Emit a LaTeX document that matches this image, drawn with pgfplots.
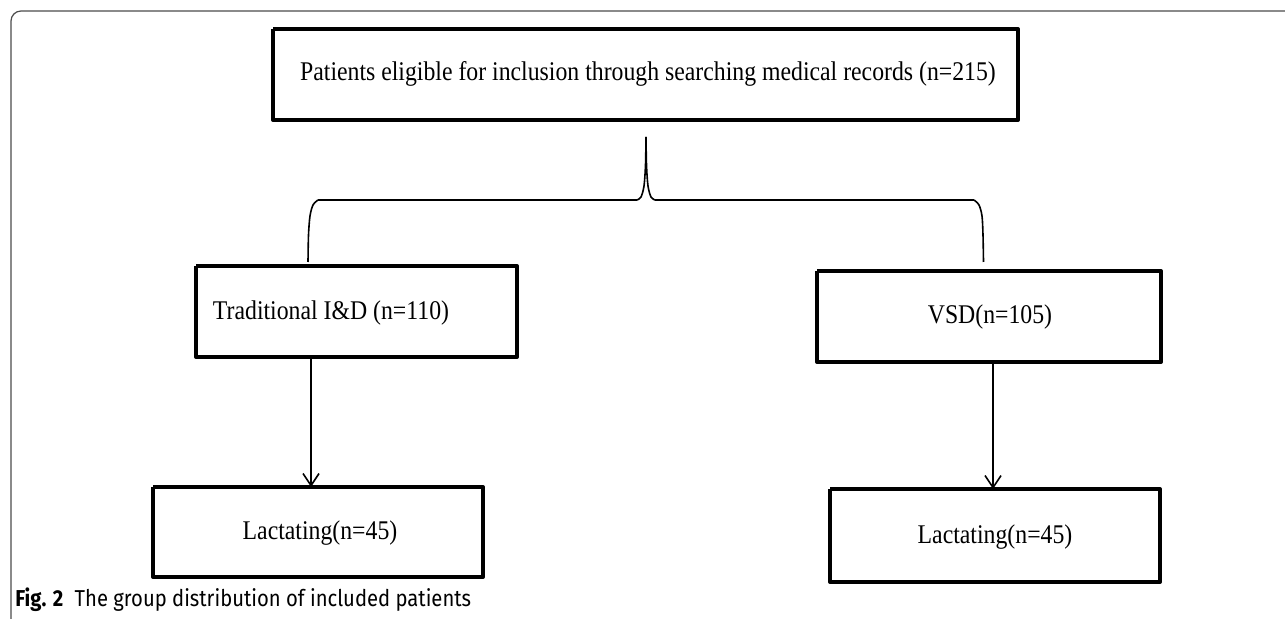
\documentclass[border=0pt]{standalone}
\usepackage{pgfplots}
\pgfplotsset{compat=1.18}
\usepackage{fontspec}
\usetikzlibrary{arrows.meta}
\newfontfamily\boxfont[FakeStretch=0.88]{Liberation Serif}
\newfontfamily\capfont[FakeStretch=0.88]{Fira Sans}

\begin{document}
\begin{tikzpicture}
\begin{axis}[
    scale only axis,
    width=642.5pt, height=309.5pt,
    xmin=0, xmax=1285, ymin=0, ymax=619,
    y dir=reverse,
    hide axis,
    clip=false,
    ]
    % outer frame
    \addplot[gray!60!black, line width=0.6pt, rounded corners=5pt] coordinates {(11,619) (11,11) (1285,11)};

    % boxes
    \addplot[black, line width=2pt, line join=round] coordinates {(273,29) (1018,29) (1018,120) (273,120) (273,29)};
    \addplot[black, line width=2pt, line join=round] coordinates {(196,266) (517,266) (517,357) (196,357) (196,266)};
    \addplot[black, line width=2pt, line join=round] coordinates {(817,271) (1161,271) (1161,362) (817,362) (817,271)};
    \addplot[black, line width=2pt, line join=round] coordinates {(153,487) (483,487) (483,577) (153,577) (153,487)};
    \addplot[black, line width=2pt, line join=round] coordinates {(830,489) (1160,489) (1160,582) (830,582) (830,489)};

    % brace
    \addplot[black, line width=0.8pt, smooth] coordinates {(308,262) (308.5,235) (310,216) (313,205) (318,200)};
    \addplot[black, line width=0.8pt] coordinates {(318,200) (637,200)};
    \addplot[black, line width=0.8pt, smooth] coordinates {(637,200) (641,197) (644,186) (645.5,165) (646,137)};
    \addplot[black, line width=0.8pt, smooth] coordinates {(646,137) (646.5,165) (648,186) (651,197) (655,200)};
    \addplot[black, line width=0.8pt] coordinates {(655,200) (974,200)};
    \addplot[black, line width=0.8pt, smooth] coordinates {(974,200) (979,205) (982,216) (983,235) (983.5,262)};

    % arrows
    \addplot[black, line width=0.8pt, -{Straight Barb[length=6pt, width=8pt]}] coordinates {(311,357) (311,487)};
    \addplot[black, line width=0.8pt, -{Straight Barb[length=6pt, width=8pt]}] coordinates {(993,362) (993,489)};

    % texts
    \node[font=\boxfont\fontsize{13.5}{15}\selectfont] at (axis cs:648,74) {Patients eligible for inclusion through searching medical records (n=215)};
    \node[font=\boxfont\fontsize{13.5}{15}\selectfont] at (axis cs:331,313) {Traditional I\&D (n=110)};
    \node[font=\boxfont\fontsize{13.5}{15}\selectfont] at (axis cs:990,317) {VSD(n=105)};
    \node[font=\boxfont\fontsize{13.5}{15}\selectfont] at (axis cs:320,533) {Lactating(n=45)};
    \node[font=\boxfont\fontsize{13.5}{15}\selectfont] at (axis cs:995,537) {Lactating(n=45)};

    \node[anchor=west, inner sep=0pt, font=\capfont\fontsize{11.5}{13}\selectfont] at (axis cs:15,600) {\textbf{Fig. 2}\enspace The group distribution of included patients};
\end{axis}
\pgfresetboundingbox
\path[use as bounding box] (current axis.south west) rectangle (current axis.north east);
\end{tikzpicture}
\end{document}
